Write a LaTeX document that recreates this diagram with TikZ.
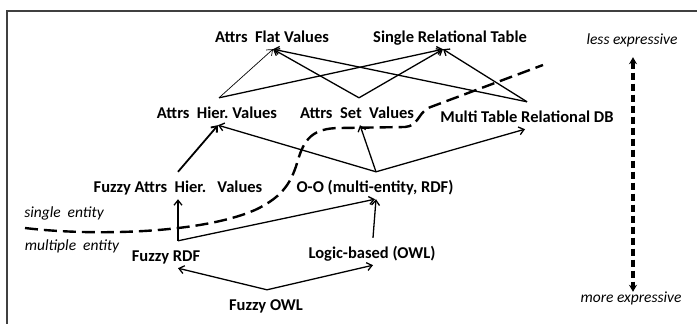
\documentclass[tikz,border=0pt]{standalone}
\usepackage{fontspec}
\setmainfont{Carlito}
\usetikzlibrary{arrows.meta}
\frenchspacing
\begin{document}
\begin{tikzpicture}[x=1pt,y=-1pt,
  lbl/.style={font=\fontsize{16.5}{18}\selectfont\bfseries, anchor=base, text height=17pt, text depth=4pt, inner xsep=2pt, inner ysep=3pt},
  ital/.style={font=\fontsize{15.5}{17}\selectfont\itshape, anchor=base, text height=8pt, text depth=2pt, inner sep=2pt},
  arr/.style={-{Straight Barb[length=5pt,width=8pt]}, line width=1.3pt},
  thinarr/.style={arr, line width=0.7pt},
  thickarr/.style={arr, line width=1.8pt},
  sep/.style={line width=2.4pt, dash pattern=on 13pt off 6pt},
  vdash/.style={line width=3.2pt, dash pattern=on 7pt off 4pt, {Stealth[length=7pt,width=8pt]}-{Stealth[length=7pt,width=8pt]}},
  frame/.style={draw=black!75, line width=1.4pt}]
\useasboundingbox (0,0) rectangle (697,324);
\clip (0,0) rectangle (697,324);
\draw[frame] (7,11) rectangle (720,345);

\node[lbl] (flat)   at (272,42)  {Attrs\ \ Flat Values};
\node[lbl] (single) at (450,42)  {Single Relational Table};
\node[lbl] (hier)   at (217,118) {Attrs\ \ Hier. Values};
\node[lbl] (set)    at (357,118) {Attrs\ \ Set\ \ Values};
\node[lbl] (multi)  at (527,122) {Multi Table Relational DB};
\node[lbl] (fah)    at (178,192) {Fuzzy Attrs\ \ Hier.\ \ \ Values};
\node[lbl] (oo)     at (375,192) {O-O (multi-entity, RDF)};
\node[lbl] (rdf)    at (166,261) {Fuzzy RDF};
\node[lbl] (logic)  at (372,258) {Logic-based (OWL)};
\node[lbl] (owl)    at (266,310) {Fuzzy OWL};

\node[ital] (less)   at (632,45)  {less expressive};
\node[ital] (more)   at (631,302) {more expressive};
\node[ital] (single1) at (64,217) {single\ \ entity};
\node[ital] (multi1)  at (72,250) {multiple\ \ entity};

% top layer
\draw[thinarr] ([xshift=2pt]hier.north) -- ([xshift=1pt]flat.south);
\draw[arr] ([xshift=2pt]hier.north) -- ([xshift=-7pt]single.south);
\draw[arr] ([xshift=2pt]set.north) -- ([xshift=1pt]flat.south);
\draw[arr] ([xshift=2pt]set.north) -- ([xshift=-7pt]single.south);
\draw[arr] (multi.north) -- ([xshift=1pt]flat.south);
\draw[arr] (multi.north) -- ([xshift=-7pt]single.south);

% O-O layer
\draw[arr] ([xshift=1pt]oo.north) -- ([xshift=1pt]hier.south);
\draw[arr] ([xshift=1pt]oo.north) -- ([xshift=3pt]set.south);
\draw[arr] ([xshift=1pt]oo.north) -- ([xshift=-2pt]multi.south);
\draw[thickarr] (fah.north) -- ([xshift=1pt]hier.south);

% bottom layer
\draw[arr] ([xshift=12pt]rdf.north) -- (fah.south);
\draw[arr] ([xshift=12pt]rdf.north) -- (oo.south);
\draw[arr] ([xshift=1pt]logic.north) -- ([xshift=1pt]oo.south);
\draw[arr] ([xshift=1pt]owl.north) -- ([xshift=12pt]rdf.south);
\draw[arr] ([xshift=1pt]owl.north) -- ([xshift=1pt]logic.south);

% separator
\draw[sep] (25,228) .. controls (90,236) and (200,234) .. (255,210)
  .. controls (285,196) and (292,180) .. (298,160)
  .. controls (304,140) and (312,128) .. (340,128) -- (405,127)
  .. controls (418,126) and (418,114) .. (428,108) -- (543,65);

% expressiveness axis
\draw[vdash, shorten <=8pt, line width=3.2pt] ([xshift=1pt]less.south) -- ([xshift=2pt]more.north);
\end{tikzpicture}
\end{document}
